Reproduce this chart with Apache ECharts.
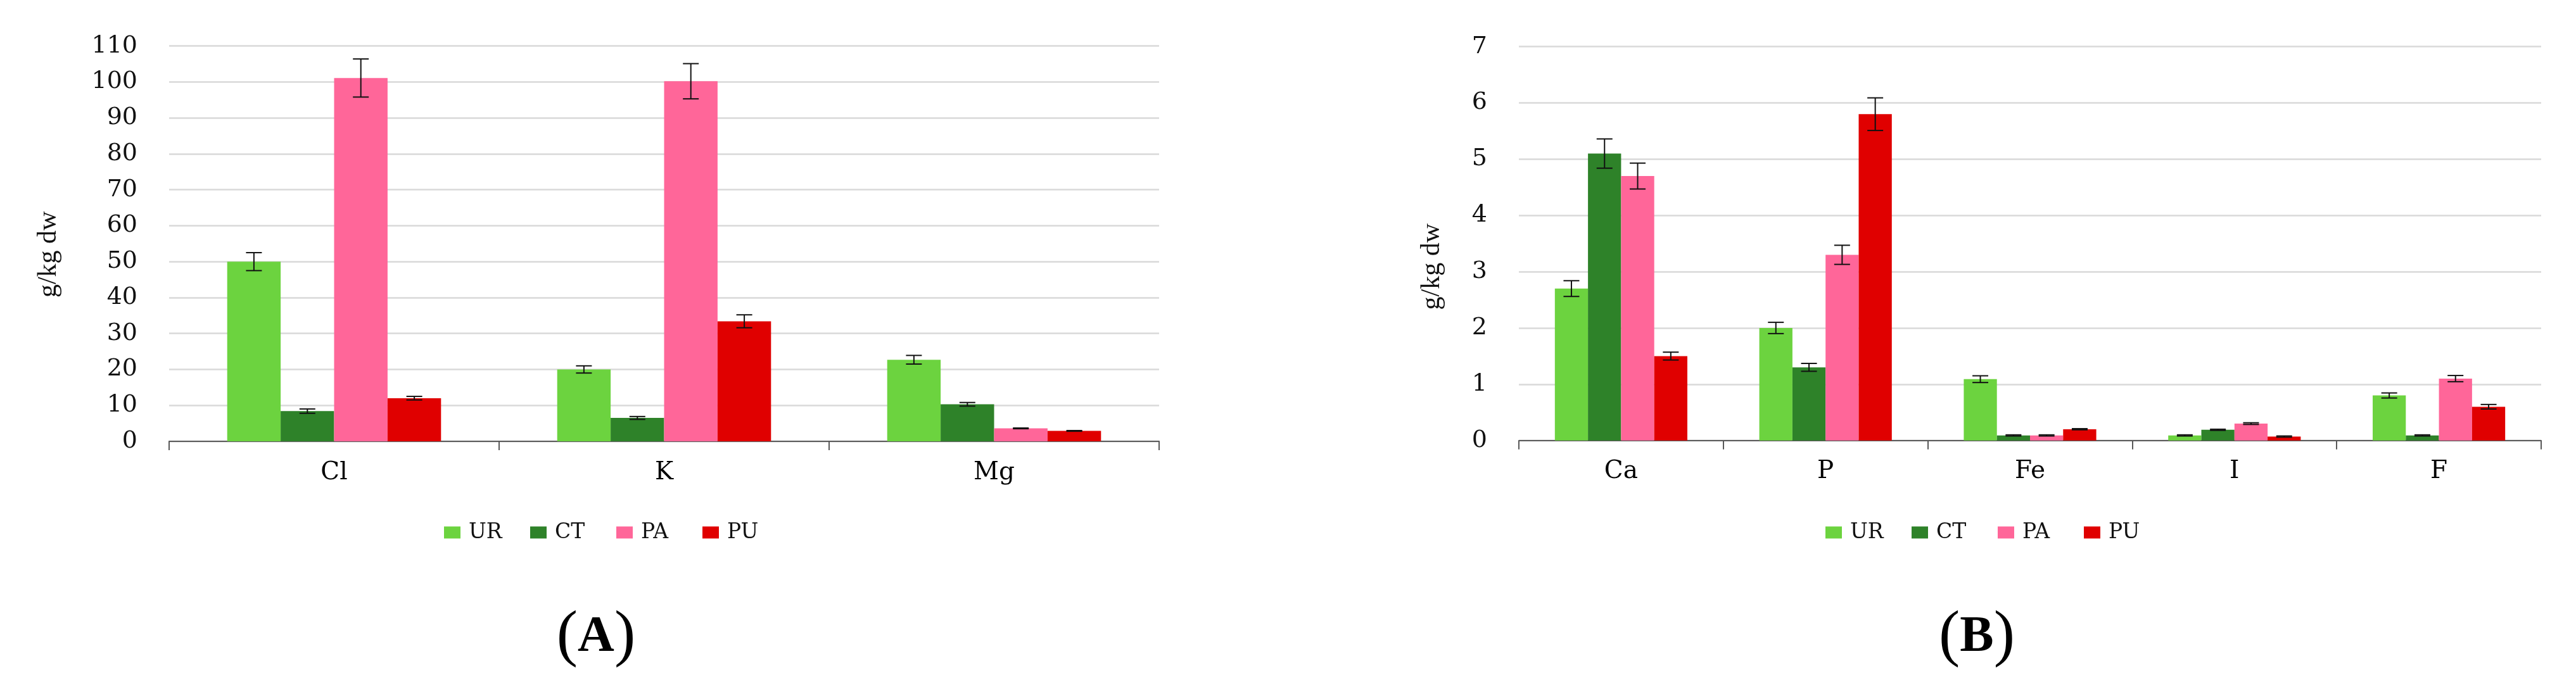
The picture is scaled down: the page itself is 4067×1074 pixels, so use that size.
<!DOCTYPE html>
<html><head><meta charset="utf-8">
<script src="https://cdn.jsdelivr.net/npm/echarts@6/dist/echarts.min.js"></script>
<style>html,body{margin:0;padding:0;background:#fff}#c{width:4067px;height:1074px}</style>
</head><body><div id="c"></div>
<script>
// ---- data ----
const seriesNames = ['UR', 'CT', 'PA', 'PU'];
const colors = ['#6cd33f', '#2e8229', '#ff6699', '#e00000'];

// Panel A
const catA = ['Cl', 'K', 'Mg'];
const UR_A = [50, 20, 22.7];
const CT_A = [8.4, 6.5, 10.3];
const PA_A = [101.1, 100.2, 3.6];
const PU_A = [12, 33.4, 2.9];
const UR_A_err = [2.5, 1.0, 1.2];
const CT_A_err = [0.6, 0.4, 0.5];
const PA_A_err = [5.3, 4.9, 0.1];
const PU_A_err = [0.5, 1.8, 0.1];
const yA = { min: 0, max: 110, interval: 10 };

// Panel B
const catB = ['Ca', 'P', 'Fe', 'I', 'F'];
const UR_B = [2.7, 2.0, 1.09, 0.09, 0.8];
const CT_B = [5.1, 1.3, 0.09, 0.19, 0.09];
const PA_B = [4.7, 3.3, 0.09, 0.3, 1.1];
const PU_B = [1.5, 5.8, 0.2, 0.07, 0.6];
const UR_B_err = [0.14, 0.1, 0.06, 0.01, 0.045];
const CT_B_err = [0.26, 0.07, 0.01, 0.01, 0.01];
const PA_B_err = [0.23, 0.17, 0.01, 0.015, 0.055];
const PU_B_err = [0.07, 0.29, 0.01, 0.01, 0.04];
const yB = { min: 0, max: 7, interval: 1 };

// ---- build ----
const BAR_FRAC = 0.162;
const serif = 'DejaVu Serif';
const valsA = [UR_A, CT_A, PA_A, PU_A], errsA = [UR_A_err, CT_A_err, PA_A_err, PU_A_err];
const valsB = [UR_B, CT_B, PA_B, PU_B], errsB = [UR_B_err, CT_B_err, PA_B_err, PU_B_err];

function errData(vals, errs) {
  const out = [];
  vals.forEach((arr, si) => arr.forEach((v, ci) => out.push([ci, v - errs[si][ci], v + errs[si][ci], si])));
  return out;
}
function renderErr(params, api) {
  const ci = api.value(0), lo = api.value(1), hi = api.value(2), si = api.value(3);
  const band = api.size([1, 0])[0];
  const bw = band * BAR_FRAC;
  const pLo = api.coord([ci, lo]), pHi = api.coord([ci, hi]);
  const x = pLo[0] + (si - 1.5) * bw;
  const cap = 12.5;
  const st = { stroke: '#111', lineWidth: 2 };
  return {
    type: 'group', children: [
      { type: 'line', shape: { x1: x, y1: pHi[1], x2: x, y2: pLo[1] }, style: st },
      { type: 'line', shape: { x1: x - cap, y1: pHi[1], x2: x + cap, y2: pHi[1] }, style: st },
      { type: 'line', shape: { x1: x - cap, y1: pLo[1], x2: x + cap, y2: pLo[1] }, style: st }
    ]
  };
}
function xAxis(cats, gi) {
  return {
    type: 'category', data: cats, gridIndex: gi,
    axisLine: { lineStyle: { color: '#595959', width: 2 } },
    axisTick: { show: true, length: 14, lineStyle: { color: '#595959', width: 2 } },
    axisLabel: { fontFamily: serif, fontSize: 39, color: '#000', margin: 30 },
    splitLine: { show: false }
  };
}
function yAxis(cfg, gi, gap, pad) {
  return {
    type: 'value', gridIndex: gi, min: cfg.min, max: cfg.max, interval: cfg.interval,
    axisLine: { show: false }, axisTick: { show: false },
    axisLabel: { fontFamily: serif, fontSize: 38, color: '#111', margin: 50 },
    splitLine: { lineStyle: { color: '#d9d9d9', width: 2.5 } },
    name: 'g/kg dw', nameLocation: 'middle', nameGap: gap,
    nameTextStyle: { fontFamily: 'Liberation Serif', fontSize: 42, color: '#111', padding: [0, pad, 0, 0] }
  };
}
const series = [];
[valsA, valsB].forEach((vals, gi) => {
  vals.forEach((arr, si) => series.push({
    type: 'bar', name: seriesNames[si], xAxisIndex: gi, yAxisIndex: gi,
    data: arr, barWidth: (BAR_FRAC * 100) + '%', barGap: '0%',
    itemStyle: { color: colors[si] }, emphasis: { disabled: true }
  }));
});
series.push({ type: 'custom', xAxisIndex: 0, yAxisIndex: 0, data: errData(valsA, errsA), renderItem: renderErr, encode: { x: 0, y: [1, 2] }, z: 10, silent: true });
series.push({ type: 'custom', xAxisIndex: 1, yAxisIndex: 1, data: errData(valsB, errsB), renderItem: renderErr, encode: { x: 0, y: [1, 2] }, z: 10, silent: true });

function legend(left) {
  return {
    data: seriesNames, left: left, top: 816, icon: 'rect', itemWidth: 26, itemHeight: 19, itemGap: 31,
    selectedMode: false,
    textStyle: { fontFamily: serif, fontSize: 33, color: '#111', width: 66, padding: [0, 0, 0, 8], lineHeight: 40 }
  };
}
function panelLabel(txt, x) {
  return {
    type: 'text', x: x, y: 1007,
    style: {
      text: '{p|(}{a|' + txt + '}{p|)}', textAlign: 'center', textVerticalAlign: 'middle',
      rich: {
        p: { fontFamily: 'Liberation Serif', fontSize: 100, fill: '#000' },
        a: { fontFamily: 'Liberation Serif', fontSize: 80, fontWeight: 'bold', fill: '#000' }
      }
    }
  };
}
const chart = echarts.init(document.getElementById('c'), null, { renderer: 'canvas' });
chart.setOption({
  backgroundColor: '#fff',
  animation: false,
  grid: [
    { left: 267, top: 72.7, width: 1563, height: 624.3 },
    { left: 2398, top: 73.7, width: 1614, height: 622 }
  ],
  xAxis: [xAxis(catA, 0), xAxis(catB, 1)],
  yAxis: [yAxis(yA, 0, 169, 34), yAxis(yB, 1, 116, 73)],
  legend: [legend(696), legend(2877)],
  series: series,
  graphic: [panelLabel('A', 941), panelLabel('B', 3121)]
});
</script></body></html>
